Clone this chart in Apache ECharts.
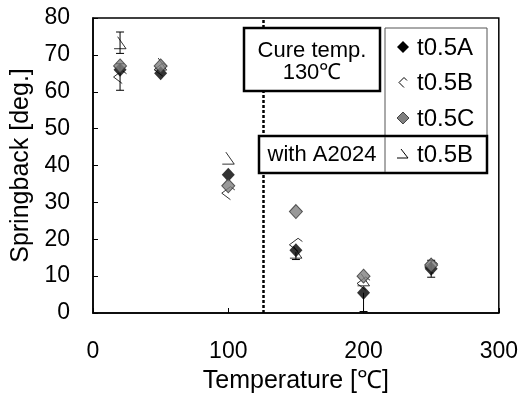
<!DOCTYPE html>
<html>
<head>
<meta charset="utf-8">
<script src="https://cdn.jsdelivr.net/npm/echarts@6/dist/echarts.min.js"></script>
<style>
html,body{margin:0;padding:0;background:#fff;}
#main{width:521px;height:399px;}
</style>
</head>
<body>
<div id="main"></div>
<script>
var myChart = echarts.init(document.getElementById("main"));//初始化echarts

// 数据
var temps = [20, 50, 100, 150, 200, 250];
var t05A = [66, 65, 37.5, 17, 5.5, 12];
var t05B = [64, 66, 32.5, 18.5, 8, 12.5];
var t05C = [67, 67, 34.5, 27.5, 10, 13];
var t05B_Al = [73.3, 67.5, 42, 16.5, 9, null];
// 误差棒 (下, 上)
var errA_lo = [0, 0, 0, 0, 5.1, 2.3];
var errA_hi = [0, 0, 0, 0, 0, 2.3];
var errB_lo = [3.6, 0, 0, 0, 0, 0];
var errB_hi = [3.6, 0, 0, 0, 0, 0];
var errAl_lo = [2.9, 0, 0, 2, 0, 0];
var errAl_hi = [2.9, 0, 0, 0, 0, 0];
var cureTemp = 126;
var xTicks = [0, 100, 200, 300];
var yTicks = [0, 10, 20, 30, 40, 50, 60, 70, 80];

var FONT = "'Liberation Sans', Arial, sans-serif";
var pathB = 'path://M5,0 L0,5 L5,10 M5,0 L7.5,2.5';
var pathAl = 'path://M3,0 L10,10 L0,10';

function pairs(ys) {
    var out = [];
    for (var i = 0; i < temps.length; i++) {
        if (ys[i] != null) out.push([temps[i], ys[i]]);
    }
    return out;
}
function errData(ys, lo, hi) {
    var out = [];
    for (var i = 0; i < temps.length; i++) {
        if (ys[i] != null && (lo[i] > 0 || hi[i] > 0)) out.push([temps[i], ys[i] - lo[i], ys[i] + hi[i], lo[i] > 0 ? 1 : 0, hi[i] > 0 ? 1 : 0]);
    }
    return out;
}
function errSeries(ys, lo, hi) {
    return {
        type: 'custom',
        z: 1,
        silent: true,
        data: errData(ys, lo, hi),
        renderItem: function (params, api) {
            var p1 = api.coord([api.value(0), api.value(1)]);
            var p2 = api.coord([api.value(0), api.value(2)]);
            var w = 4;
            var st = {stroke: '#000', lineWidth: 1};
            var kids = [{type: 'line', shape: {x1: p1[0], y1: p1[1], x2: p2[0], y2: p2[1]}, style: st}];
            if (api.value(3)) kids.push({type: 'line', shape: {x1: p1[0] - w, y1: p1[1], x2: p1[0] + w, y2: p1[1]}, style: st});
            if (api.value(4)) kids.push({type: 'line', shape: {x1: p2[0] - w, y1: p2[1], x2: p2[0] + w, y2: p2[1]}, style: st});
            return {type: 'group', children: kids};
        }
    };
}

// 图例 (图形)
var legX = 403, txtX = 417;
var rowY = [47, 82.5, 118, 154];
var legendGraphics = [
    {type: 'rect', shape: {x: 244, y: 28, width: 136, height: 63}, style: {fill: '#fff', stroke: '#000', lineWidth: 2.5}, z: 100},
    {type: 'text', style: {x: 312, y: 51, text: 'Cure temp.', font: '22px ' + FONT, fill: '#000', align: 'center', verticalAlign: 'middle'}, z: 101},
    {type: 'text', style: {x: 312, y: 73, text: '130℃', font: '22px ' + FONT, fill: '#000', align: 'center', verticalAlign: 'middle'}, z: 101},
    {type: 'rect', shape: {x: 385, y: 28, width: 102, height: 108}, style: {fill: '#fff', stroke: '#555', lineWidth: 1}, z: 100},
    {type: 'rect', shape: {x: 259, y: 136, width: 228, height: 37}, style: {fill: '#fff', stroke: '#000', lineWidth: 2.5}, z: 100},
    {type: 'line', shape: {x1: 385, y1: 137, x2: 385, y2: 172}, style: {stroke: '#555', lineWidth: 1}, z: 101},
    {type: 'text', style: {x: 322, y: 155, text: 'with A2024', font: '22px ' + FONT, fill: '#000', align: 'center', verticalAlign: 'middle'}, z: 101},
    {type: 'polygon', shape: {points: [[legX, rowY[0] - 6], [legX + 6, rowY[0]], [legX, rowY[0] + 6], [legX - 6, rowY[0]]]}, style: {fill: '#000'}, z: 101},
    {type: 'polyline', shape: {points: [[legX + 1, rowY[1] - 5], [legX - 4, rowY[1]], [legX + 1, rowY[1] + 5]]}, style: {stroke: '#000', lineWidth: 1, fill: null}, z: 101},
    {type: 'polyline', shape: {points: [[legX + 1, rowY[1] - 5], [legX + 4, rowY[1] - 2]]}, style: {stroke: '#000', lineWidth: 1, fill: null}, z: 101},
    {type: 'polygon', shape: {points: [[legX, rowY[2] - 6], [legX + 6, rowY[2]], [legX, rowY[2] + 6], [legX - 6, rowY[2]]]}, style: {fill: '#808080', stroke: '#444', lineWidth: 1}, z: 101},
    {type: 'polyline', shape: {points: [[legX - 2, rowY[3] - 5], [legX + 5, rowY[3] + 4], [legX - 6, rowY[3] + 4]]}, style: {stroke: '#000', lineWidth: 1, fill: null}, z: 101}
];
var labels = ['t0.5A', 't0.5B', 't0.5C', 't0.5B'];
for (var i = 0; i < 4; i++) {
    legendGraphics.push({type: 'text', style: {x: txtX, y: rowY[i] + 1, text: labels[i], font: '24px ' + FONT, fill: '#000', align: 'left', verticalAlign: 'middle'}, z: 101});
}

option = {
    animation: false,
    backgroundColor: '#fff',
    grid: {left: 93, right: 22, top: 18, bottom: 86, show: true, borderColor: '#000', borderWidth: 1.5, backgroundColor: 'transparent'},
    xAxis: {
        type: 'value', min: xTicks[0], max: xTicks[xTicks.length - 1], interval: 100,
        name: 'Temperature [℃]', nameLocation: 'middle', nameGap: 56,
        nameTextStyle: {fontFamily: FONT, fontSize: 25, color: '#000'},
        axisLine: {show: true, lineStyle: {color: '#000', width: 1.5}},
        axisTick: {show: true, inside: true, length: 5, lineStyle: {color: '#000'}},
        axisLabel: {fontFamily: FONT, fontSize: 23, color: '#000', margin: 27},
        splitLine: {show: false}
    },
    yAxis: {
        type: 'value', min: yTicks[0], max: yTicks[yTicks.length - 1], interval: 10,
        name: 'Springback [deg.]', nameLocation: 'middle', nameGap: 57,
        nameTextStyle: {fontFamily: FONT, fontSize: 25, color: '#000'},
        axisLine: {show: true, lineStyle: {color: '#000', width: 1.5}},
        axisTick: {show: true, inside: true, length: 5, lineStyle: {color: '#000'}},
        axisLabel: {fontFamily: FONT, fontSize: 23, color: '#000', margin: 23},
        splitLine: {show: false}
    },
    graphic: legendGraphics,
    series: [
        errSeries(t05B_Al, errAl_lo, errAl_hi),
        errSeries(t05B, errB_lo, errB_hi),
        errSeries(t05A, errA_lo, errA_hi),
        {
            name: 't0.5B (A2024)', type: 'scatter', z: 2, data: pairs(t05B_Al),
            symbol: pathAl, symbolSize: 12,
            itemStyle: {color: 'rgba(0,0,0,0)', borderColor: '#000', borderWidth: 1},
            markLine: {
                silent: true, symbol: 'none', label: {show: false},
                lineStyle: {color: '#000', type: [3, 2], width: 2.5},
                data: [{xAxis: cureTemp}]
            }
        },
        {
            name: 't0.5B', type: 'scatter', z: 3, data: pairs(t05B),
            symbol: pathB, symbolSize: 13,
            itemStyle: {color: 'rgba(0,0,0,0)', borderColor: '#000', borderWidth: 1}
        },
        {
            name: 't0.5A', type: 'scatter', z: 4, data: pairs(t05A),
            symbol: 'diamond', symbolSize: [13, 14],
            itemStyle: {color: '#000'}
        },
        {
            name: 't0.5C', type: 'scatter', z: 5, data: pairs(t05C),
            symbol: 'diamond', symbolSize: [13, 14],
            itemStyle: {color: '#808080', borderColor: '#333', borderWidth: 1}
        }
    ]
};
myChart.setOption(option);//绘制echarts
</script>
</body>
</html>
